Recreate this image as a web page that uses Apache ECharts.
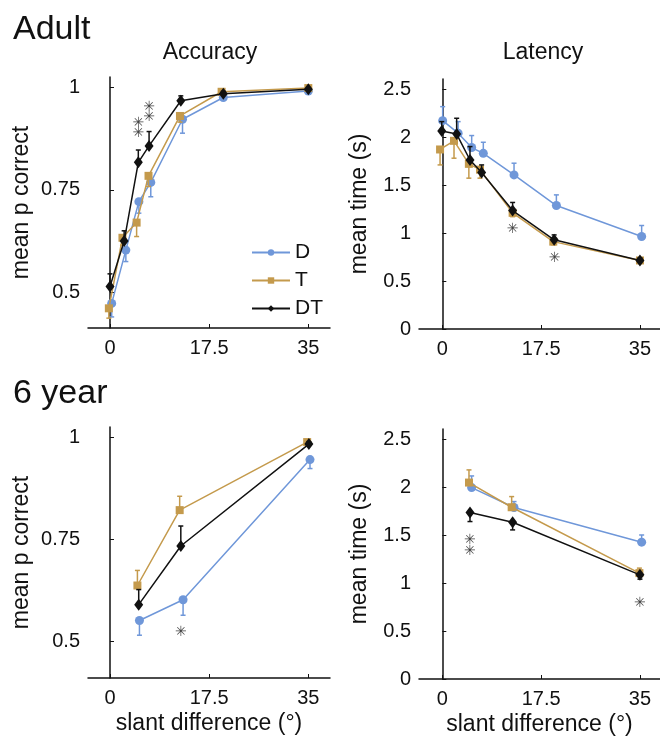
<!DOCTYPE html>
<html>
<head>
<meta charset="utf-8">
<script src="https://cdn.jsdelivr.net/npm/echarts@6/dist/echarts.min.js"></script>
<style>
  html, body { margin: 0; padding: 0; background: #fff; }
  #main { width: 660px; height: 740px; }
</style>
</head>
<body>
<div id="main"></div>
<script>
// series names and colours
var groups = ['D', 'T', 'DT'];
var colors = { D: '#6f97d9', T: '#c49a4c', DT: '#111111' };

// tick labels
var slantTicks = [0, 17.5, 35];
var accTicks = [0.5, 0.75, 1];
var latTicks = [0, 0.5, 1, 1.5, 2, 2.5];

// Adult - accuracy (x, mean, end of error bar)
var adultAccX_D = [0.3, 2.8, 5.1, 7.2, 12.8, 20.0, 35];
var adultAcc_D = [0.473, 0.603, 0.721, 0.768, 0.922, 0.975, 0.991];
var adultAccErr_D = [0.440, 0.575, 0.693, 0.733, 0.888, 0.970, 0.987];
var adultAccX_T = [-0.2, 2.2, 4.7, 6.8, 12.35, 19.7, 35];
var adultAcc_T = [0.461, 0.633, 0.670, 0.784, 0.930, 0.989, 0.998];
var adultAccErr_T = [0.437, 0.615, 0.636, 0.758, 0.915, 0.985, 0.995];
var adultAccX_DT = [0, 2.5, 5, 6.9, 12.5, 20, 35];
var adultAcc_DT = [0.514, 0.625, 0.817, 0.857, 0.967, 0.984, 0.995];
var adultAccErr_DT = [0.545, 0.650, 0.847, 0.892, 0.979, 0.990, 0.999];
var adultAccStars = [[5, 0.912], [5, 0.888], [6.9, 0.951], [6.9, 0.926]];

// Adult - latency
var adultLatX_D = [0.06, 2.8, 5.2, 7.26, 12.7, 20.2, 35.3];
var adultLat_D = [2.17, 2.04, 1.89, 1.83, 1.605, 1.286, 0.964];
var adultLatErr_D = [2.316, 2.16, 2.015, 1.945, 1.727, 1.397, 1.078];
var adultLatX_T = [-0.4, 2.07, 4.7, 6.67, 12.45, 19.65, 35];
var adultLat_T = [1.87, 1.96, 1.72, 1.66, 1.21, 0.91, 0.714];
var adultLatErr_T = [1.709, 1.779, 1.571, 1.571, 1.17, 0.877, 0.69];
var adultLatX_DT = [-0.1, 2.54, 4.9, 6.96, 12.45, 19.8, 35];
var adultLat_DT = [2.063, 2.03, 1.76, 1.63, 1.234, 0.929, 0.714];
var adultLatErr_DT = [2.16, 2.195, 1.90, 1.709, 1.318, 0.98, 0.74];
var adultLatStars = [[12.45, 1.033], [19.9, 0.732]];

// 6 year - accuracy
var childAccX_D = [5.2, 12.9, 35.3];
var childAcc_D = [0.551, 0.602, 0.946];
var childAccErr_D = [0.515, 0.564, 0.924];
var childAccX_T = [4.84, 12.3, 34.8];
var childAcc_T = [0.637, 0.822, 0.989];
var childAccErr_T = [0.674, 0.856, 0.995];
var childAccX_DT = [5.07, 12.5, 35.1];
var childAcc_DT = [0.590, 0.734, 0.984];
var childAccErr_DT = [0.627, 0.783, 0.99];
var childAccStars = [[12.5, 0.523]];

// 6 year - latency
var childLatX_D = [5.19, 12.7, 35.3];
var childLat_D = [1.994, 1.786, 1.425];
var childLatErr_D = [2.115, 1.848, 1.50];
var childLatX_T = [4.72, 12.28, 34.9];
var childLat_T = [2.046, 1.789, 1.103];
var childLatErr_T = [2.178, 1.90, 1.155];
var childLatX_DT = [4.9, 12.45, 35];
var childLat_DT = [1.734, 1.633, 1.085];
var childLatErr_DT = [1.64, 1.553, 1.04];
var childLatStars = [[4.9, 1.443], [4.9, 1.328], [35, 0.79]];

var FONT = 'Liberation Sans, Arial, sans-serif';

var panels = [
  { x: { D: adultAccX_D, T: adultAccX_T, DT: adultAccX_DT },
    y: { D: adultAcc_D, T: adultAcc_T, DT: adultAcc_DT },
    e: { D: adultAccErr_D, T: adultAccErr_T, DT: adultAccErr_DT },
    stars: adultAccStars },
  { x: { D: adultLatX_D, T: adultLatX_T, DT: adultLatX_DT },
    y: { D: adultLat_D, T: adultLat_T, DT: adultLat_DT },
    e: { D: adultLatErr_D, T: adultLatErr_T, DT: adultLatErr_DT },
    stars: adultLatStars },
  { x: { D: childAccX_D, T: childAccX_T, DT: childAccX_DT },
    y: { D: childAcc_D, T: childAcc_T, DT: childAcc_DT },
    e: { D: childAccErr_D, T: childAccErr_T, DT: childAccErr_DT },
    stars: childAccStars },
  { x: { D: childLatX_D, T: childLatX_T, DT: childLatX_DT },
    y: { D: childLat_D, T: childLat_T, DT: childLat_DT },
    e: { D: childLatErr_D, T: childLatErr_T, DT: childLatErr_DT },
    stars: childLatStars }
];

var grids = [
  { left: 88, top: 77, width: 242, height: 251 },
  { left: 419, top: 79, width: 241, height: 250 },
  { left: 88, top: 427, width: 242, height: 251 },
  { left: 419, top: 429, width: 241, height: 250 }
];

var symbols = { D: 'circle', T: 'rect', DT: 'diamond' };
var symbolSizes = { D: 9, T: 8, DT: [9, 12] };

function axisCommon() {
  return {
    axisLine: { show: true, lineStyle: { color: '#111', width: 1.5 } },
    axisTick: { show: true, inside: true, length: 4, lineStyle: { color: '#111', width: 1 } },
    splitLine: { show: false },
    axisLabel: { color: '#111', fontSize: 20, fontFamily: FONT }
  };
}

var xAxes = [], yAxes = [];
for (var i = 0; i < 4; i++) {
  var xa = axisCommon();
  xa.type = 'value';
  xa.gridIndex = i;
  xa.min = (i % 2 === 0) ? -3.88 : -4.13;
  xa.max = (i % 2 === 0) ? 38.83 : 38.55;
  xa.axisTick.customValues = slantTicks;
  xa.axisLabel.customValues = slantTicks;
  xa.axisLabel.margin = 10;
  if (i >= 2) {
    xa.name = 'slant difference (°)';
    xa.nameLocation = 'middle';
    xa.nameGap = 34;
    xa.nameTextStyle = { fontSize: 23, color: '#111', fontFamily: FONT };
  }
  xAxes.push(xa);

  var ya = axisCommon();
  ya.type = 'value';
  ya.gridIndex = i;
  ya.axisLabel.margin = 8;
  ya.nameLocation = 'middle';
  ya.nameTextStyle = { fontSize: 23, color: '#111', fontFamily: FONT };
  if (i % 2 === 0) {
    ya.min = (i === 0) ? 0.413 : 0.41;
    ya.max = (i === 0) ? 1.025 : 1.026;
    ya.axisTick.customValues = accTicks;
    ya.axisLabel.customValues = accTicks;
    ya.name = 'mean p correct';
    ya.nameGap = 55;
  } else {
    ya.min = 0;
    ya.max = 2.604;
    ya.axisTick.customValues = latTicks;
    ya.axisLabel.customValues = latTicks;
    ya.name = 'mean time (s)';
    ya.nameGap = 48;
  }
  yAxes.push(ya);
}

function renderErr(params, api) {
  var p0 = api.coord([api.value(0), api.value(1)]);
  var p1 = api.coord([api.value(0), api.value(2)]);
  var st = { stroke: api.visual('color'), lineWidth: 1.5 };
  return {
    type: 'group',
    children: [
      { type: 'line', shape: { x1: p0[0], y1: p0[1], x2: p1[0], y2: p1[1] }, style: st },
      { type: 'line', shape: { x1: p1[0] - 2.5, y1: p1[1], x2: p1[0] + 2.5, y2: p1[1] }, style: st }
    ]
  };
}

function renderStar(params, api) {
  var p = api.coord([api.value(0), api.value(1)]);
  return {
    type: 'text',
    x: p[0], y: p[1],
    style: { text: '\u2733', fill: '#444', font: 'bold 14px DejaVu Sans', align: 'center', verticalAlign: 'middle' }
  };
}

var series = [];
panels.forEach(function (pn, i) {
  groups.forEach(function (g, k) {
    var pts = [], errs = [];
    for (var j = 0; j < pn.x[g].length; j++) {
      pts.push([pn.x[g][j], pn.y[g][j]]);
      errs.push([pn.x[g][j], pn.y[g][j], pn.e[g][j]]);
    }
    series.push({
      name: g + ' err', type: 'custom', xAxisIndex: i, yAxisIndex: i,
      renderItem: renderErr, data: errs, z: 2 + k * 2,
      itemStyle: { color: colors[g] }, silent: true
    });
    series.push({
      name: g, type: 'line', xAxisIndex: i, yAxisIndex: i,
      data: pts, symbol: symbols[g], symbolSize: symbolSizes[g],
      showSymbol: true, z: 3 + k * 2,
      lineStyle: { color: colors[g], width: 1.5 },
      itemStyle: { color: colors[g], borderWidth: 0 },
      animation: false
    });
  });
  series.push({
    name: 'sig', type: 'custom', xAxisIndex: i, yAxisIndex: i,
    renderItem: renderStar, data: pn.stars, z: 10, silent: true
  });
});

var chart = echarts.init(document.getElementById('main'));
chart.setOption({
  backgroundColor: '#fff',
  animation: false,
  title: [
    { text: 'Adult', left: 8, top: 8, textStyle: { fontSize: 34, fontWeight: 'normal', color: '#111', fontFamily: FONT } },
    { text: 'Accuracy', left: 205, top: 36, textAlign: 'center', textStyle: { fontSize: 23, fontWeight: 'normal', color: '#111', fontFamily: FONT } },
    { text: 'Latency', left: 538, top: 36, textAlign: 'center', textStyle: { fontSize: 23, fontWeight: 'normal', color: '#111', fontFamily: FONT } },
    { text: '6 year', left: 8, top: 372, textStyle: { fontSize: 34, fontWeight: 'normal', color: '#111', fontFamily: FONT } }
  ],
  legend: {
    data: groups,
    orient: 'vertical',
    left: 246, top: 237,
    itemWidth: 38, itemHeight: 8, itemGap: 7,
    textStyle: { fontSize: 21, lineHeight: 21, color: '#111', fontFamily: FONT }
  },
  grid: grids,
  xAxis: xAxes,
  yAxis: yAxes,
  series: series
});
</script>
</body>
</html>
